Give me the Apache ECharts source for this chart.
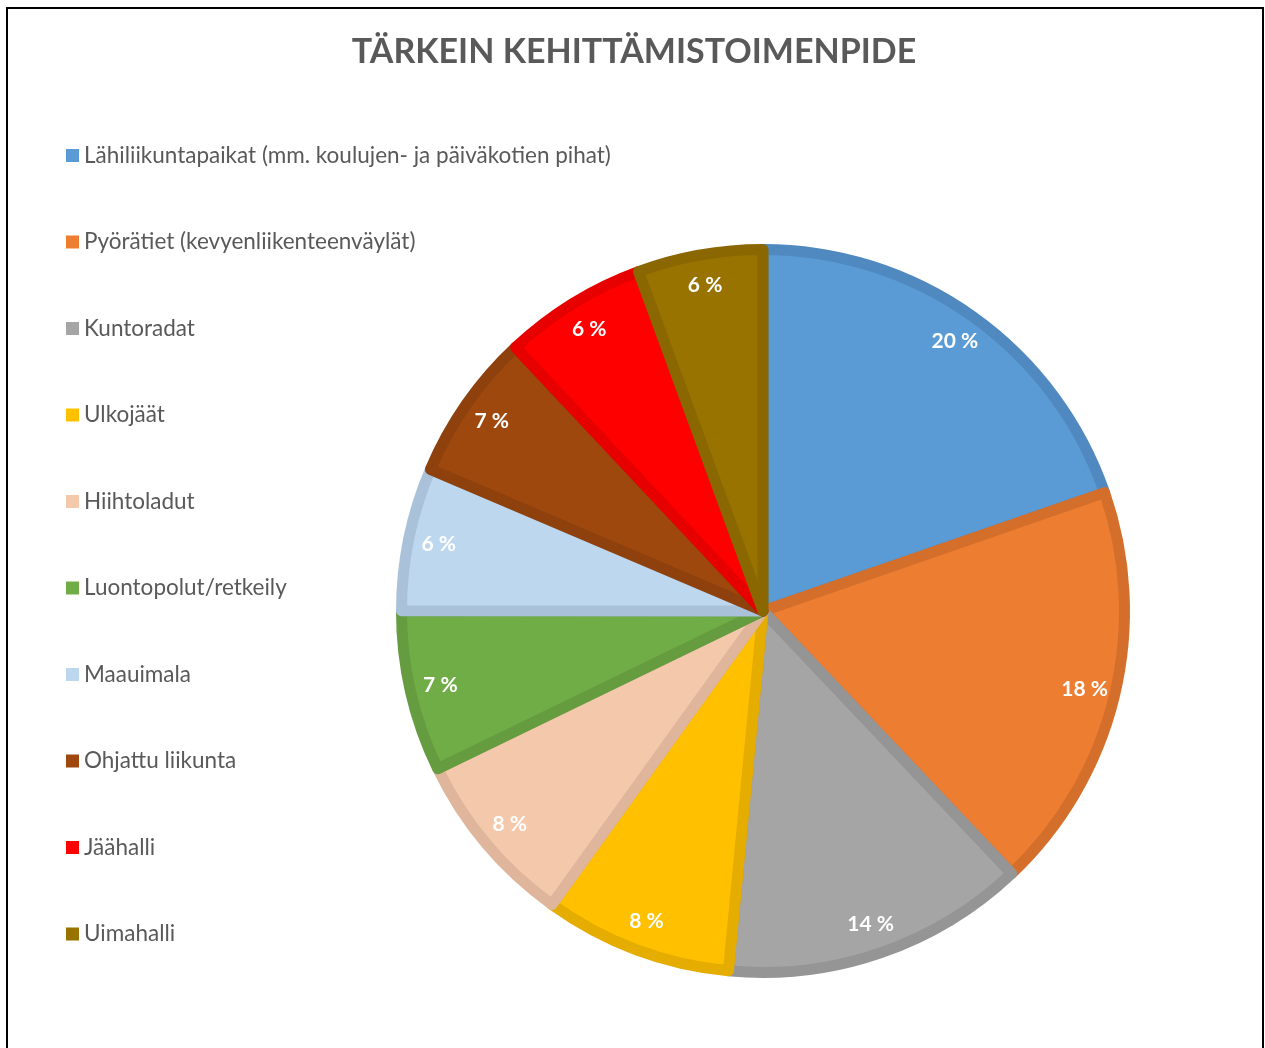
<!DOCTYPE html>
<html>
<head>
<meta charset="utf-8">
<script src="https://cdn.jsdelivr.net/npm/echarts@6/dist/echarts.min.js"></script>
<style>
html,body{margin:0;padding:0;background:#fff;}
#chart{width:1265px;height:1048px;}
</style>
</head>
<body>
<div id="chart"></div>
<script>
const titleText = 'TÄRKEIN KEHITTÄMISTOIMENPIDE';
const categories = [
  'Lähiliikuntapaikat (mm. koulujen- ja päiväkotien pihat)',
  'Pyörätiet (kevyenliikenteenväylät)',
  'Kuntoradat',
  'Ulkojäät',
  'Hiihtoladut',
  'Luontopolut/retkeily',
  'Maauimala',
  'Ohjattu liikunta',
  'Jäähalli',
  'Uimahalli'
];
const values = [19.7, 18.25, 13.6, 8.4, 7.9, 7.2, 6.4, 6.6, 6.4, 5.6];
const fillColors = ['#5B9BD5','#ED7D31','#A5A5A5','#FFC000','#F4C8AB','#70AD47','#BDD7EE','#9E480E','#FF0000','#997300'];
const borderColors = ['#4F89C0','#D46F2B','#959595','#E5AD00','#DFB69B','#659C40','#AAC2D9','#8E410D','#E60000','#8A6700'];

const FONT = 'Lato';
const R = 367;
const BW = 11;

const mainData = categories.map((c, i) => ({
  name: c,
  value: values[i],
  itemStyle: { color: fillColors[i], borderColor: borderColors[i], borderWidth: BW }
}));
const labelData = categories.map((c, i) => ({ name: c, value: values[i] }));

const chart = echarts.init(document.getElementById('chart'), null, { renderer: 'canvas' });
chart.setOption({
  backgroundColor: '#ffffff',
  animation: false,
  title: {
    text: titleText,
    left: 634,
    textAlign: 'center',
    top: 35,
    padding: 0,
    textStyle: { fontFamily: FONT, fontSize: 34, fontWeight: 'bold', color: '#595959' }
  },
  legend: {
    orient: 'vertical',
    left: 66,
    top: 144,
    padding: 0,
    icon: 'rect',
    itemWidth: 13,
    itemHeight: 13,
    itemGap: 63.5,
    itemStyle: { borderWidth: 0 },
    selectedMode: false,
    data: categories,
    textStyle: { fontFamily: FONT, fontSize: 22.5, color: '#595959' }
  },
  graphic: [{
    type: 'rect',
    silent: true,
    shape: { x: 7, y: 8, width: 1256, height: 1100 },
    style: { fill: 'none', stroke: '#000', lineWidth: 2 }
  }],
  series: [
    {
      type: 'pie',
      center: [763, 611],
      radius: [0, R - BW / 2],
      startAngle: 90,
      clockwise: true,
      silent: true,
      label: { show: false },
      labelLine: { show: false },
      emphasis: { disabled: true },
      data: mainData
    },
    {
      type: 'pie',
      center: [763, 611],
      radius: [289, R],
      startAngle: 90,
      clockwise: true,
      silent: true,
      itemStyle: { color: 'rgba(0,0,0,0)', borderWidth: 0 },
      emphasis: { disabled: true },
      labelLine: { show: false },
      label: {
        show: true,
        position: 'inside',
        formatter: p => Math.round(p.percent) + ' %',
        fontFamily: FONT,
        fontSize: 21,
        fontWeight: 'bold',
        color: '#ffffff'
      },
      data: labelData
    }
  ]
});
</script>
</body>
</html>
